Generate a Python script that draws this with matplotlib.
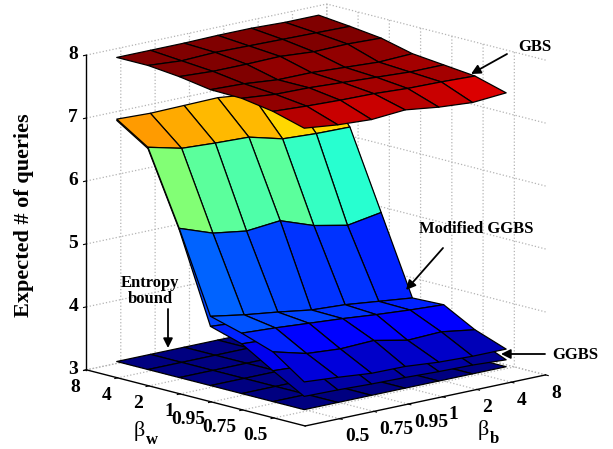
import numpy as np
import matplotlib
matplotlib.use('Agg')
import matplotlib.pyplot as plt
from matplotlib.colors import Normalize

beta_labels = ['0.5', '0.75', '0.95', '1', '2', '4', '8']
z_ticks = [3, 4, 5, 6, 7, 8]

# rows run from beta_w = 0.5 up to beta_w = 8, columns from beta_b = 0.5 up to 8
gbs = [[7.47, 7.41, 7.38, 7.42, 7.35, 7.31, 7.35],
       [7.61, 7.58, 7.56, 7.55, 7.52, 7.51, 7.49],
       [7.69, 7.64, 7.63, 7.60, 7.57, 7.54, 7.54],
       [7.70, 7.68, 7.63, 7.63, 7.60, 7.57, 7.59],
       [7.78, 7.75, 7.75, 7.76, 7.72, 7.73, 7.71],
       [7.83, 7.79, 7.81, 7.80, 7.79, 7.78, 7.77],
       [7.83, 7.83, 7.83, 7.84, 7.84, 7.82, 7.82]]

modified_ggbs = [[3.44, 3.40, 3.35, 3.345, 3.30, 3.28, 3.28],
                 [3.79, 3.65, 3.61, 3.63, 3.52, 3.54, 3.46],
                 [3.96, 3.93, 3.89, 3.85, 3.80, 3.76, 3.73],
                 [4.10, 4.01, 3.94, 3.86, 3.83, 3.77, 3.71],
                 [5.37, 5.18, 5.10, 5.15, 4.96, 4.85, 4.94],
                 [6.53, 6.40, 6.37, 6.35, 6.21, 6.18, 6.17],
                 [6.85, 6.83, 6.84, 6.85, 6.79, 6.79, 6.79]]

ggbs = [[3.21, 3.20, 3.18, 3.17, 3.15, 3.14, 3.11],
        [3.49, 3.46, 3.43, 3.41, 3.37, 3.34, 3.32],
        [3.79, 3.76, 3.72, 3.68, 3.63, 3.58, 3.53],
        [3.94, 3.90, 3.85, 3.81, 3.76, 3.71, 3.65],
        [5.35, 5.16, 5.08, 5.13, 4.94, 4.83, 4.92],
        [6.51, 6.38, 6.35, 6.33, 6.19, 6.16, 6.15],
        [6.83, 6.81, 6.82, 6.83, 6.77, 6.77, 6.77]]

entropy = [[3.0] * 7] * 7

plt.rcParams['font.family'] = ['Liberation Serif', 'DejaVu Serif']
plt.rcParams['font.weight'] = 'bold'
plt.rcParams['grid.color'] = '#b4b4b4'
plt.rcParams['grid.linestyle'] = ':'
plt.rcParams['grid.linewidth'] = 0.9

fig = plt.figure(figsize=(6.13, 4.49), dpi=100)
ax = fig.add_axes([79.8 / 613, -2.2 / 449, 460 / 613, 460 / 449],
                  projection='3d', computed_zorder=False)
ax.set_proj_type('ortho')
ax.view_init(elev=13.5, azim=-132.3)
ax.set_box_aspect((1, 1, 0.996), zoom=1.1865)
ax.patch.set_alpha(0)

# the surface grid sits a little off the tick marks in the original
pos = np.arange(1, len(beta_labels) + 1)
surf_x = np.linspace(1, 6.88, 7)
y_shift = 0.13
X, Y = np.meshgrid(surf_x, pos)
cmap = plt.get_cmap('jet', 64)
norm = Normalize(3, 7.71)

# painted from the lowest surface to the highest
for i, surface in enumerate([entropy, ggbs, modified_ggbs, gbs]):
    Z = np.array(surface, dtype=float)
    ax.plot_surface(X, Y, Z, facecolors=cmap(norm(Z)), rstride=1, cstride=1,
                    edgecolor='k', linewidth=0.9, shade=False, zorder=i + 1)

ax.set_xlim(0, 7)
ax.set_ylim(-y_shift, 7 - y_shift)
ax.set_zlim(3, 8)
ax.set_xticks(pos)
ax.set_yticks(pos - y_shift)
ax.set_zticks(z_ticks)
ax.set_xticklabels(beta_labels, fontsize=14, fontweight='bold', ha='left', va='top')
ax.set_yticklabels(beta_labels, fontsize=14, fontweight='bold', ha='right', va='top')
ax.set_zticklabels([str(t) for t in z_ticks], fontsize=14, fontweight='bold', va='center')
ax.tick_params(axis='x', pad=-3.5)
ax.tick_params(axis='y', pad=-3.5)
ax.tick_params(axis='z', pad=-3)

for axis in [ax.xaxis, ax.yaxis, ax.zaxis]:
    axis.set_pane_color((1, 1, 1, 1))
    axis.pane.set_edgecolor('none')
    axis.line.set_color('k')
    axis.line.set_linewidth(1.0)
    axis._axinfo['tick']['inward_factor'] = 0.15
    axis._axinfo['tick']['outward_factor'] = 0.0

# overlay in image pixels for the hand placed labels and arrows
ov = fig.add_axes([0, 0, 1, 1])
ov.set_xlim(0, 613)
ov.set_ylim(449, 0)
ov.axis('off')

ov.text(24, 215, 'Expected # of queries', rotation=90, ha='center', va='center',
        fontsize=16, fontweight='bold')
ov.text(139, 431, 'β', ha='center', va='center', fontsize=16, fontweight='normal')
ov.text(152, 440, 'w', ha='center', va='center', fontsize=12, fontweight='bold')
ov.text(483, 430, 'β', ha='center', va='center', fontsize=16, fontweight='normal')
ov.text(494, 439, 'b', ha='center', va='center', fontsize=12, fontweight='bold')

ov.text(535, 47, 'GBS', ha='center', va='center', fontsize=12, fontweight='bold')
ov.text(476, 229, 'Modified GGBS', ha='center', va='center', fontsize=12, fontweight='bold')
ov.text(575, 355, 'GGBS', ha='center', va='center', fontsize=12, fontweight='bold')
ov.text(150, 291, 'Entropy\nbound', ha='center', va='center', fontsize=12,
        fontweight='bold', linespacing=1.05)

arrow = dict(arrowstyle='-|>', color='k', lw=1.3, mutation_scale=14, shrinkA=0, shrinkB=0)
ov.annotate('', xy=(471, 74), xytext=(507, 54), arrowprops=arrow)
ov.annotate('', xy=(406, 290), xytext=(443, 248), arrowprops=arrow)
ov.annotate('', xy=(501, 354), xytext=(545, 354), arrowprops=arrow)
ov.annotate('', xy=(168, 348), xytext=(168, 309), arrowprops=arrow)

fig.savefig('out.png', dpi=100)
